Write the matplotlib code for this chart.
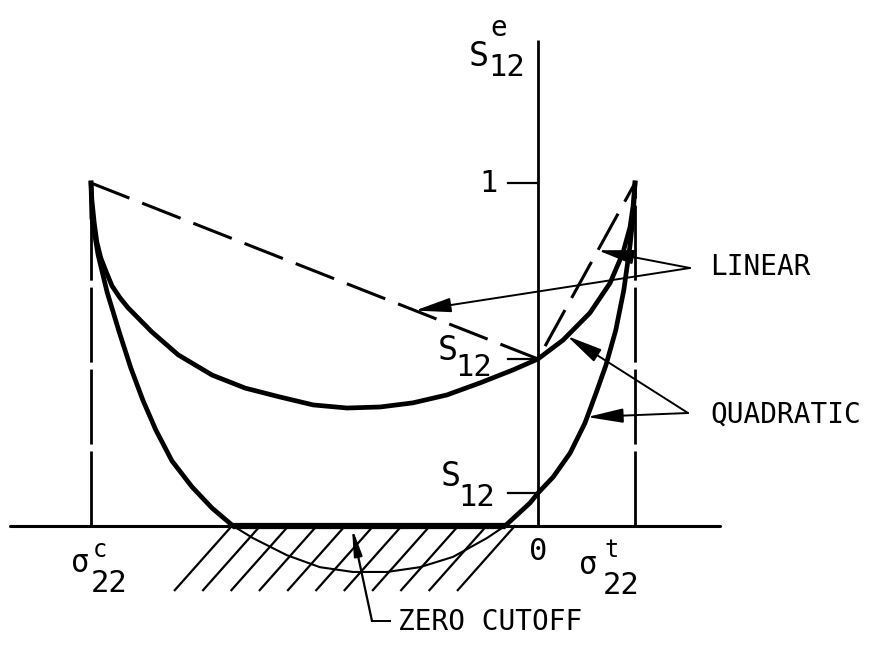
import matplotlib
matplotlib.use("Agg")
import matplotlib.pyplot as plt
import numpy as np

plt.rcParams['font.family'] = ['DejaVu Sans Mono', 'DejaVu Sans']

# transverse stress sigma22 scaled by |sigma22_c|, effective shear strength S12e
SIG_C = -1.0
SIG_T = 0.217
S12_UPPER = 0.487
S12_LOWER = 0.096

# upper quadratic curve
upper_x = [-1.000, -0.998, -0.993, -0.987, -0.978, -0.966, -0.953, -0.935,
           -0.917, -0.864, -0.805, -0.729, -0.655, -0.577, -0.503, -0.427,
           -0.353, -0.280, -0.204, -0.130, -0.056, 0.000, 0.056, 0.116,
           0.161, 0.190, 0.206, 0.213, 0.217]
upper_y = [1.000, 0.950, 0.886, 0.828, 0.781, 0.741, 0.700, 0.665,
           0.636, 0.566, 0.499, 0.440, 0.402, 0.376, 0.353, 0.344,
           0.347, 0.359, 0.382, 0.417, 0.455, 0.487, 0.542, 0.621,
           0.708, 0.796, 0.872, 0.936, 1.000]

# lower quadratic curve (dips below zero, cut off there)
lower_x = [-1.000, -0.998, -0.984, -0.964, -0.937, -0.911, -0.884, -0.855,
           -0.819, -0.774, -0.729, -0.682, -0.638, -0.562, -0.488, -0.414,
           -0.338, -0.264, -0.190, -0.114, -0.074, -0.018, 0.000, 0.034,
           0.072, 0.105, 0.130, 0.152, 0.174, 0.192, 0.206, 0.213, 0.217]
lower_y = [1.000, 0.898, 0.790, 0.682, 0.566, 0.461, 0.367, 0.280,
           0.190, 0.114, 0.052, 0.000, -0.035, -0.085, -0.120, -0.134,
           -0.134, -0.120, -0.090, -0.035, 0.000, 0.067, 0.096, 0.143,
           0.213, 0.300, 0.388, 0.469, 0.571, 0.688, 0.819, 0.907, 1.000]

# linear interpolation
linear_x = [SIG_C, 0.0, SIG_T]
linear_y = [1.0, S12_UPPER, 1.0]


def P(xp, yp):
    # position on the sheet (pixels) -> data units, for labels only
    return (xp - 538) / 447, (526 - yp) / 343


fig = plt.figure(figsize=(8.73, 6.45), dpi=100)
ax = fig.add_axes([0, 0, 1, 1])
ax.set_xlim(-538 / 447, 335 / 447)
ax.set_ylim(-119 / 343, 526 / 343)
ax.axis('off')

k = 'black'

# axes
ax.plot([P(10, 0)[0], P(720, 0)[0]], [0, 0], color=k, lw=2.2, solid_capstyle='round')
ax.plot([0, 0], [0, P(0, 40)[1]], color=k, lw=2.0, solid_capstyle='butt')
for yv in (1.0, S12_UPPER, S12_LOWER):
    ax.plot([-0.068, 0], [yv, yv], color=k, lw=1.6)

# dashed verticals at the strengths
for xv in (SIG_C, SIG_T):
    ax.plot([xv, xv], [0, 1], color=k, lw=2.0, dashes=(27, 2.5))

# linear
ax.plot(linear_x, linear_y, color=k, lw=2.2, dashes=(13.5, 4.5))

# quadratic curves
ax.plot(upper_x, upper_y, color=k, lw=3.4, solid_joinstyle='round')
lx = np.array(lower_x)
ly = np.array(lower_y)
ax.plot(lx, np.where(ly >= 0, ly, np.nan), color=k, lw=3.4, solid_joinstyle='round')
ax.plot(lx, np.where(ly <= 0, ly, np.nan), color=k, lw=1.5)

# zero cutoff segment and hatching
zx = lx[ly == 0]
ax.plot([zx.min(), zx.max()], [0, 0], color=k, lw=4.5, solid_capstyle='butt')
depth = -0.187
for xt in np.linspace(-0.685, -0.052, 11):
    ax.plot([xt, xt - 0.1275], [0, depth], color=k, lw=1.6)

# labels
fs = 22
ax.text(*P(489, 183), '1', fontsize=fs, ha='center', va='center')
ax.text(*P(538, 552), '0', fontsize=22, ha='center', va='center')

ax.text(*P(479, 57), 'S', fontsize=24, ha='center', va='center')
ax.text(*P(507, 68), '12', fontsize=fs, ha='center', va='center')
ax.text(*P(499, 28), 'e', fontsize=20, ha='center', va='center')

ax.text(*P(448, 350), 'S', fontsize=24, ha='center', va='center')
ax.text(*P(474, 368), '12', fontsize=fs, ha='center', va='center')
ax.text(*P(451, 477), 'S', fontsize=24, ha='center', va='center')
ax.text(*P(477, 497), '12', fontsize=fs, ha='center', va='center')

ax.text(*P(80, 564), 'σ', fontsize=fs, ha='center', va='center')
ax.text(*P(100, 550), 'c', fontsize=17, ha='center', va='center')
ax.text(*P(109, 583), '22', fontsize=fs, ha='center', va='center')
ax.text(*P(588, 566), 'σ', fontsize=fs, ha='center', va='center')
ax.text(*P(612, 550), 't', fontsize=17, ha='center', va='center')
ax.text(*P(621, 585), '22', fontsize=fs, ha='center', va='center')

ax.text(*P(710, 267), 'LINEAR', fontsize=20, ha='left', va='center')
ax.text(*P(710, 415), 'QUADRATIC', fontsize=20, ha='left', va='center')
ax.text(*P(398, 622), 'ZERO CUTOFF', fontsize=20, ha='left', va='center')

# leader arrows
head = dict(arrowstyle='-|>,head_length=1.1,head_width=0.22', color=k, lw=1.4,
            shrinkA=0, shrinkB=0, mutation_scale=20)


def on_curve(xs, ys, xv):
    return xv, float(np.interp(xv, xs, ys))


right = lx >= 0
lin_v = P(690, 268)
ax.annotate('', xy=on_curve(linear_x[:2], linear_y[:2], -0.275), xytext=lin_v, arrowprops=head)
ax.annotate('', xy=on_curve(linear_x[1:], linear_y[1:], 0.134), xytext=lin_v, arrowprops=head)

quad_v = P(688, 413)
ax.annotate('', xy=on_curve(upper_x, upper_y, 0.065), xytext=quad_v, arrowprops=head)
ax.annotate('', xy=on_curve(lx[right], ly[right], 0.110), xytext=quad_v, arrowprops=head)

zc = P(372, 621)
ax.plot([zc[0], P(390, 0)[0]], [zc[1], zc[1]], color=k, lw=1.4)
ax.annotate('', xy=(P(352, 0)[0], -0.005), xytext=zc,
            arrowprops=dict(arrowstyle='-|>,head_length=0.8,head_width=0.12', color=k,
                            lw=1.6, shrinkA=0, shrinkB=0, mutation_scale=20))

fig.savefig('out.png', dpi=100)
